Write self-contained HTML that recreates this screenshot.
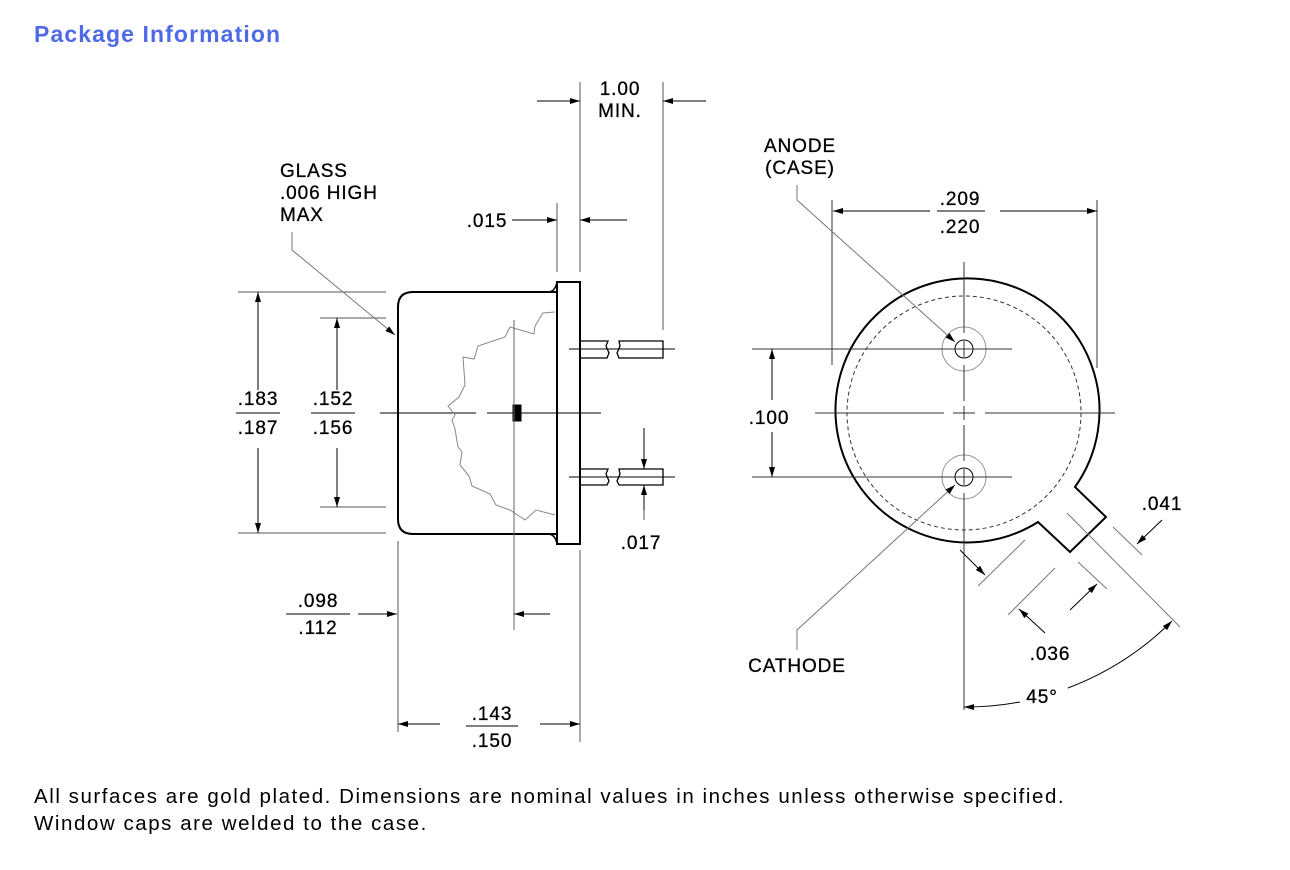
<!DOCTYPE html>
<html><head><meta charset="utf-8"><style>
body{margin:0;width:1290px;height:865px;background:#fff;overflow:hidden;font-family:"Liberation Sans",sans-serif}
</style></head><body>
<svg width="1290" height="865" xmlns="http://www.w3.org/2000/svg" font-family="Liberation Sans, sans-serif">
<defs>
<marker id="a" viewBox="0 0 10 6" refX="10" refY="3" markerWidth="14" markerHeight="6" orient="auto" markerUnits="userSpaceOnUse"><path d="M0,0 L10,3 L0,6 Z" fill="#000"/></marker>
</defs>
<text x="34" y="42" font-size="23" font-weight="bold" fill="#4f6ae6" letter-spacing="1.1">Package Information</text>
<text x="34" y="803" font-size="20.5" fill="#000" letter-spacing="1.55">All surfaces are gold plated. Dimensions are nominal values in inches unless otherwise specified.</text>
<text x="34" y="830" font-size="20.5" fill="#000" letter-spacing="1.55">Window caps are welded to the case.</text>

<g font-size="19" fill="#000" text-anchor="middle" letter-spacing="0.9" stroke="#000" stroke-width="0.3">
<text x="620" y="95">1.00</text><text x="620" y="117">MIN.</text>
<text x="280" y="177" text-anchor="start">GLASS</text>
<text x="280" y="199" text-anchor="start">.006 HIGH</text>
<text x="280" y="221" text-anchor="start">MAX</text>
<text x="487" y="227">.015</text>
<text x="258" y="405">.183</text><text x="258" y="434">.187</text>
<text x="333" y="405">.152</text><text x="333" y="434">.156</text>
<text x="318" y="607">.098</text><text x="318" y="634">.112</text>
<text x="492" y="720">.143</text><text x="492" y="747">.150</text>
<text x="641" y="549">.017</text>
<text x="800" y="152">ANODE</text><text x="800" y="174">(CASE)</text>
<text x="960" y="205">.209</text><text x="960" y="233">.220</text>
<text x="769" y="424">.100</text>
<text x="1162" y="510">.041</text>
<text x="1050" y="660">.036</text>
<text x="1042" y="703">45°</text>
<text x="797" y="672">CATHODE</text>
</g>

<g stroke="#000" stroke-width="1" fill="none">
<line x1="236" y1="413" x2="280" y2="413"/><line x1="311" y1="413" x2="355" y2="413"/>
<line x1="286" y1="614" x2="350" y2="614"/><line x1="466" y1="726" x2="518" y2="726"/>
<line x1="937" y1="211" x2="985" y2="211"/>
<path d="M557,292 L413,292 Q398,292 398,307 L398,519 Q398,534 413,534 L557,534" stroke-width="2"/>
<path d="M548,292 Q555,292 557,282 M548,534 Q555,534 557,544" stroke-width="1.5"/>
<rect x="557" y="282" width="23" height="262" stroke-width="2"/>
<path d="M580,341 H608 L606,346 L609,353 L607,358 H580 M619,341 H663 V358 H619 L617,353 L620,346 Z" stroke-width="1.3"/>
<path d="M580,469 H608 L606,474 L609,481 L607,485 H580 M619,469 H663 V485 H619 L617,481 L620,474 Z" stroke-width="1.3"/>
<line x1="569" y1="349" x2="675" y2="349"/><line x1="569" y1="477" x2="675" y2="477"/>
<path d="M380,413 H476 M487,413 H601"/>
<rect x="513" y="405" width="8" height="16" fill="#000"/>
<path d="M555,312 L543,313 L535,326 L534,334 L510,327 L505,337 L478,346 L474,359 L463,357 L465,385 L459,397 L448,406 L455,415 L452,420 L455,429 L458,447 L462,452 L460,465 L469,476 L472,486 L490,494 L496,505 L510,510 L525,520 L536,510 L555,515" stroke="#888" stroke-width="1"/>
<line x1="514" y1="320" x2="514" y2="630" stroke="#666"/>
<g stroke="#555">
<line x1="238" y1="292" x2="386" y2="292"/><line x1="238" y1="533" x2="386" y2="533"/>
<line x1="320" y1="318" x2="386" y2="318"/><line x1="320" y1="507" x2="386" y2="507"/>
<line x1="398" y1="541" x2="398" y2="732"/><line x1="580" y1="550" x2="580" y2="742"/>
<line x1="557" y1="203" x2="557" y2="272"/><line x1="580" y1="82" x2="580" y2="272"/>
<line x1="663" y1="82" x2="663" y2="330"/><line x1="644" y1="500" x2="644" y2="520"/>
<polyline points="292,232 292,250 395,335" stroke="#777" marker-end="url(#a)"/>
</g>
<line x1="258" y1="390" x2="258" y2="292" marker-end="url(#a)"/>
<line x1="258" y1="448" x2="258" y2="533" marker-end="url(#a)"/>
<line x1="337" y1="390" x2="337" y2="318" marker-end="url(#a)"/>
<line x1="337" y1="448" x2="337" y2="507" marker-end="url(#a)"/>
<line x1="358" y1="614" x2="397" y2="614" marker-end="url(#a)"/>
<line x1="550" y1="614" x2="514" y2="614" marker-end="url(#a)"/>
<line x1="440" y1="724" x2="398" y2="724" marker-end="url(#a)"/>
<line x1="540" y1="724" x2="580" y2="724" marker-end="url(#a)"/>
<line x1="644" y1="428" x2="644" y2="469" marker-end="url(#a)"/>
<line x1="644" y1="510" x2="644" y2="485" marker-end="url(#a)"/>
<line x1="512" y1="220" x2="557" y2="220" marker-end="url(#a)"/>
<line x1="627" y1="220" x2="580" y2="220" marker-end="url(#a)"/>
<line x1="537" y1="101" x2="580" y2="101" marker-end="url(#a)"/>
<line x1="706" y1="101" x2="663" y2="101" marker-end="url(#a)"/>

<path d="M1038,522 A132,132 0 1 1 1075,487 L1106,517 L1070,552 Z" stroke-width="2"/>
<circle cx="964" cy="413" r="117" stroke="#333" stroke-dasharray="4,3"/>
<circle cx="964" cy="349" r="22" stroke="#999"/><circle cx="964" cy="349" r="9"/>
<circle cx="964" cy="477" r="22" stroke="#999"/><circle cx="964" cy="477" r="9"/>
<g stroke="#333">
<path d="M964,262 V333 M964,341 V357 M964,365 V401 M964,406 V420 M964,425 V461 M964,469 V485 M964,493 V710"/>
<path d="M815,413 H944 M953,413 H975 M985,413 H1115"/>
<line x1="752" y1="349" x2="1012" y2="349"/><line x1="752" y1="477" x2="1012" y2="477"/>
<line x1="832" y1="200" x2="832" y2="365"/><line x1="1097" y1="200" x2="1097" y2="368"/>
</g>
<line x1="772" y1="400" x2="772" y2="349" marker-end="url(#a)"/>
<line x1="772" y1="432" x2="772" y2="477" marker-end="url(#a)"/>
<line x1="930" y1="211" x2="833" y2="211" marker-end="url(#a)"/>
<line x1="1000" y1="211" x2="1097" y2="211" marker-end="url(#a)"/>
<polyline points="797,185 797,200 955,342" stroke="#777" marker-end="url(#a)"/>
<polyline points="797,650 797,630 955,485" stroke="#777" marker-end="url(#a)"/>
<g stroke="#777">
<line x1="1067" y1="513" x2="1180" y2="627"/>
<line x1="1113" y1="527" x2="1142" y2="555"/>
<line x1="1025" y1="540" x2="978" y2="586"/>
<line x1="1055" y1="568" x2="1008" y2="615"/>
<line x1="1078" y1="562" x2="1107" y2="589"/>
</g>
<line x1="1162" y1="520" x2="1137" y2="544" marker-end="url(#a)"/>
<line x1="960" y1="550" x2="985" y2="575" marker-end="url(#a)"/>
<line x1="1045" y1="633" x2="1019" y2="609" marker-end="url(#a)"/>
<line x1="1070" y1="610" x2="1097" y2="584" marker-end="url(#a)"/>
<path d="M1020,702 A294,294 0 0 1 964,707" marker-end="url(#a)"/>
<path d="M1068,688 A294,294 0 0 0 1172,621" marker-end="url(#a)"/>
</g>
</svg>
</body></html>
